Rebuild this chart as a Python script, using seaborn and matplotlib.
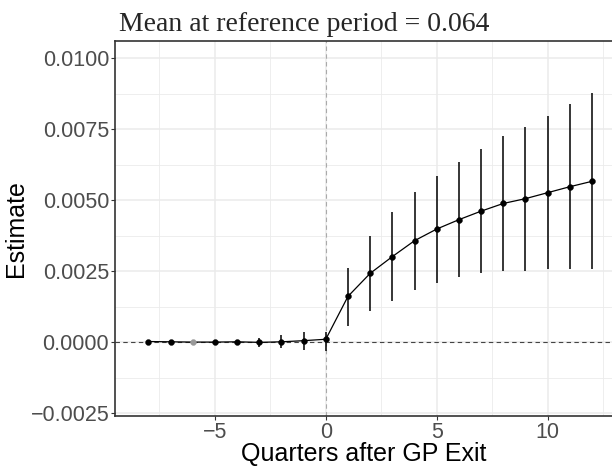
import matplotlib
matplotlib.use("Agg")
import matplotlib.pyplot as plt
from matplotlib.ticker import MultipleLocator
import seaborn as sns
import pandas as pd

# Event-study estimates by quarter relative to GP exit
quarters = list(range(-8, 13))
estimate = [0.00002, 0.00001, 0.0, 0.0, 0.00001, -0.00001, 0.00001, 0.00005, 0.0001,
            0.00161, 0.00242, 0.00301, 0.00357, 0.00398, 0.00431, 0.00461,
            0.00488, 0.00505, 0.00526, 0.00547, 0.00566]
ci_low = [-0.00002, -0.00002, 0.0, -0.00003, -0.00005, -0.00016, -0.00022, -0.00027, -0.0003,
          0.00057, 0.00108, 0.00145, 0.00183, 0.00208, 0.00228, 0.00242,
          0.00251, 0.00251, 0.00256, 0.00257, 0.00256]
ci_high = [0.00005, 0.00004, 0.0, 0.00003, 0.00007, 0.00016, 0.00026, 0.00035, 0.00036,
           0.00261, 0.00374, 0.00459, 0.00529, 0.00586, 0.00634, 0.0068,
           0.00724, 0.00758, 0.00797, 0.00838, 0.00877]
reference_quarter = -6
reference_mean = 0.064

df = pd.DataFrame({"quarter": quarters, "estimate": estimate,
                   "lo": ci_low, "hi": ci_high})
df["is_ref"] = df["quarter"] == reference_quarter

sns.set_theme(style="whitegrid")
plt.rcParams["font.family"] = ["Liberation Sans", "DejaVu Sans"]

fig = plt.figure(figsize=(6.12, 4.70), dpi=100)
ax = fig.add_axes([0.1887, 0.115, 0.8113, 0.7978])

grid_col = "#EBEBEB"
ax.xaxis.set_major_locator(MultipleLocator(5))
ax.xaxis.set_minor_locator(MultipleLocator(2.5))
ax.yaxis.set_major_locator(MultipleLocator(0.0025))
ax.yaxis.set_minor_locator(MultipleLocator(0.00125))
ax.grid(which="major", color=grid_col, linewidth=1.1)
ax.grid(which="minor", color=grid_col, linewidth=0.6)
ax.set_axisbelow(True)

ax.axhline(0, color="#444444", linestyle=(0, (4, 3)), linewidth=0.8, zorder=1)
ax.axvline(0, color="#AAAAAA", linestyle=(0, (4, 3)), linewidth=0.8, zorder=1)

ax.vlines(df["quarter"], df["lo"], df["hi"], color="black", linewidth=1.1, zorder=2)
sns.lineplot(data=df, x="quarter", y="estimate", color="black", linewidth=0.9,
             ax=ax, zorder=3)
sns.scatterplot(data=df[~df["is_ref"]], x="quarter", y="estimate", color="black",
                s=18, edgecolor="black", linewidth=0.3, ax=ax, zorder=4)
sns.scatterplot(data=df[df["is_ref"]], x="quarter", y="estimate", color="#999999",
                s=18, edgecolor="#999999", linewidth=0.3, ax=ax, zorder=4)

ax.set_xlim(-9.48, 12.9)
ax.set_ylim(-0.0026, 0.0106)

ax.set_xticks([-5, 0, 5, 10])
ax.set_xticklabels(["\u22125", "0", "5", "10"])
yt = [-0.0025, 0.0, 0.0025, 0.005, 0.0075, 0.01]
ax.set_yticks(yt)
ax.set_yticklabels(["\u22120.0025", "0.0000", "0.0025", "0.0050", "0.0075", "0.0100"])

ax.tick_params(axis="both", which="major", labelsize=15.5, labelcolor="#4D4D4D",
               color="#333333", length=3, width=0.8, pad=1.5, left=True, bottom=True)
ax.tick_params(axis="both", which="minor", length=0)

for side in ["left", "bottom", "top"]:
    ax.spines[side].set_visible(True)
    ax.spines[side].set_color("#333333")
    ax.spines[side].set_linewidth(1.2)
ax.spines["right"].set_visible(False)

ax.set_xlabel("Quarters after GP Exit", fontsize=18, color="black", labelpad=-1)
ax.set_ylabel("Estimate", fontsize=18, color="black")
ax.yaxis.set_label_coords(-0.176, 0.5)

ax.set_title(f"Mean at reference period = {reference_mean}", loc="left",
             fontsize=20, family=["Liberation Serif", "DejaVu Serif"], pad=7, x=0.007)

fig.savefig("out.png", dpi=100)
